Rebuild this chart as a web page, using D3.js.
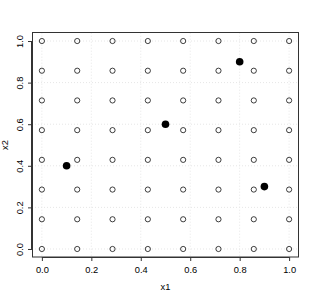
<!DOCTYPE html>
<html><head><meta charset="utf-8">
<script src="https://cdn.jsdelivr.net/npm/d3@7"></script>
<style>body{margin:0;background:#fff}text{font-family:"Liberation Sans",Arial,sans-serif;}</style>
</head><body>
<svg id="c" width="315" height="299"></svg>
<script>
const gridVals = [0, 1/7, 2/7, 3/7, 4/7, 5/7, 6/7, 1];
const designX = [0.1, 0.5, 0.8, 0.9];
const designY = [0.4, 0.6, 0.9, 0.3];
const tickVals = [0, 0.2, 0.4, 0.6, 0.8, 1.0];
const tickLabels = ["0.0", "0.2", "0.4", "0.6", "0.8", "1.0"];

const svg = d3.select("#c");
const x = d3.scaleLinear().domain([-0.04, 1.04]).range([32, 299]);
const y = d3.scaleLinear().domain([-0.04, 1.04]).range([257.3, 32.7]);

// grid
svg.append("g").selectAll("line").data(tickVals).join("line")
  .attr("x1", d => x(d)).attr("x2", d => x(d)).attr("y1", y(1.04)).attr("y2", y(-0.04))
  .attr("stroke", "#e6e6e6").attr("stroke-dasharray", "1,2");
svg.append("g").selectAll("line").data(tickVals).join("line")
  .attr("y1", d => y(d)).attr("y2", d => y(d)).attr("x1", x(-0.04)).attr("x2", x(1.04))
  .attr("stroke", "#e6e6e6").attr("stroke-dasharray", "1,2");

// open circles
const pts = [];
gridVals.forEach(a => gridVals.forEach(b => pts.push([a, b])));
svg.append("g").selectAll("circle").data(pts).join("circle")
  .attr("cx", d => x(d[0])).attr("cy", d => y(d[1])).attr("r", 2.6)
  .attr("fill", "none").attr("stroke", "#000").attr("stroke-width", 0.75);

// filled
svg.append("g").selectAll("circle").data(designX).join("circle")
  .attr("cx", d => x(d)).attr("cy", (d, i) => y(designY[i])).attr("r", 3.8)
  .attr("fill", "#000");

// box
svg.append("rect").attr("x", 32.5).attr("y", 32.5).attr("width", 266).attr("height", 224.5)
  .attr("fill", "none").attr("stroke", "#333").attr("stroke-width", 1);

// axes
const fmt = (d) => tickLabels[tickVals.indexOf(d)];
const xa = svg.append("g").attr("transform", "translate(0,257)")
  .call(d3.axisBottom(x).tickValues(tickVals).tickFormat(fmt).tickSize(4).tickPadding(5.5));
xa.select(".domain").attr("d", `M${x(0)},0.5H${x(1)}`).attr("stroke", "#333");
xa.selectAll("text").attr("font-size", 9.3).attr("font-family", "Liberation Sans, Arial, sans-serif").attr("fill", "#000");
xa.selectAll(".tick line").attr("stroke", "#333");

const ya = svg.append("g").attr("transform", "translate(32,0)")
  .call(d3.axisLeft(y).tickValues(tickVals).tickFormat(fmt).tickSize(4).tickPadding(5));
ya.select(".domain").attr("d", `M-0.5,${y(0)}V${y(1)}`).attr("stroke", "#333");
ya.selectAll(".tick line").attr("stroke", "#333");
ya.selectAll("text").attr("font-size", 9.3).attr("font-family", "Liberation Sans, Arial, sans-serif").attr("fill", "#000")
  .attr("text-anchor", "middle").attr("transform", "rotate(-90)")
  .attr("x", 0).attr("dy", 0).attr("y", -9.5);

svg.append("text").attr("x", x(0.5)).attr("y", 290).attr("text-anchor", "middle")
  .attr("font-size", 9.3).text("x1");
svg.append("text").attr("transform", `translate(7.5,${y(0.5)}) rotate(-90)`).attr("text-anchor", "middle")
  .attr("font-size", 9.3).text("x2");
</script>
</body></html>
